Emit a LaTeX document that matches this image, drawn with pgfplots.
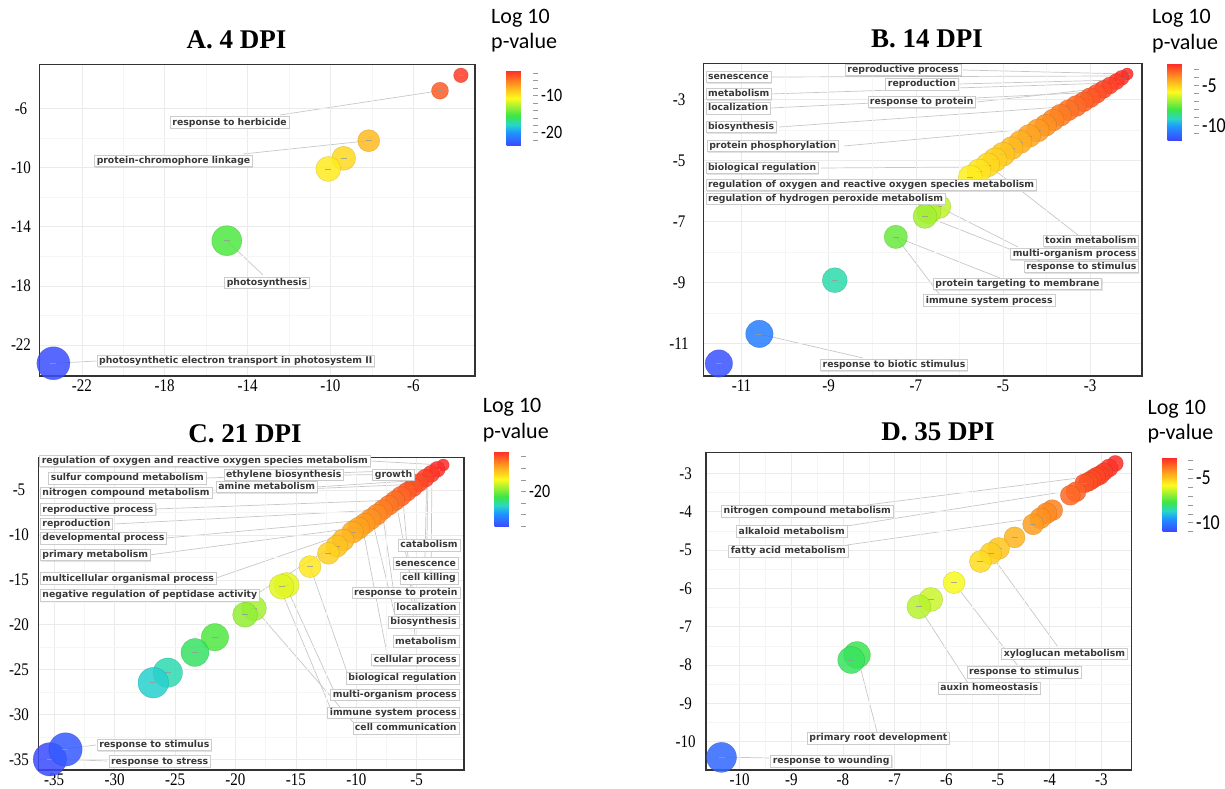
\documentclass[border=0pt]{standalone}
\usepackage{fontspec}
\setmainfont{Liberation Serif}
\newfontfamily\tickfont{Liberation Serif}
\newfontfamily\labfont{DejaVu Sans}
\newfontfamily\calfont{Carlito}
\usepackage{pgfplots}
\usepackage{pgfplotstable}
\pgfplotsset{compat=1.18}
\usetikzlibrary{shadows}

\pgfdeclareplotmark{bub}{%
  \pgfpathcircle{\pgfpointorigin}{\pgfplotmarksize}%
  \pgfusepathqfillstroke
  \pgfsetstrokecolor{black!40}%
  \pgfsetstrokeopacity{0.8}%
  \pgfsetlinewidth{0.6pt}%
  \pgfpathmoveto{\pgfpoint{-3pt}{0pt}}%
  \pgfpathlineto{\pgfpoint{3pt}{0pt}}%
  \pgfusepathqstroke
}

\pgfplotsset{
  colormap={revigo}{rgb255(0cm)=(60,70,255); rgb255(1.8cm)=(30,150,255); rgb255(2.8cm)=(40,215,200); rgb255(4cm)=(60,230,70); rgb255(6.3cm)=(255,250,30); rgb255(8cm)=(255,160,30); rgb255(10cm)=(255,40,40)},
  /pgf/number format/assume math mode=true,
  panel/.style={scale only axis, anchor=south west,
    axis line style={line width=1.2pt, black!80},
    major tick length=0pt, minor tick length=0pt,
    grid=both, major grid style={black!8, line width=0.5pt}, minor grid style={black!4, line width=0.4pt},
    minor tick num=1,
    xticklabel={\tickfont\pgfmathprintnumber{\tick}},
    yticklabel={\tickfont\pgfmathprintnumber{\tick}},
    tick label style={font=\tickfont\fontsize{15}{15}\selectfont, yscale=1.18},
    yticklabel style={anchor=center},
    clip=true, colorbar},
  cb/.style={scale only axis, at={(parent axis.north east)}, anchor=north west,
    axis line style={draw=none}, ytick pos=right, yticklabel pos=right,
    yticklabel={\calfont\pgfmathprintnumber{\tick}},
    tick align=outside, major tick length=5pt, minor tick length=5pt,
    major tick style={black!40, line width=0.6pt}, minor tick style={black!40, line width=0.6pt}},
  bubbles/.style={scatter, only marks, mark=bub, point meta=y,
    scatter/use mapped color={draw=mapped color!75!black, fill=mapped color},
    visualization depends on={\thisrow{r}\as\rr},
    scatter/@pre marker code/.append style={/tikz/mark size=\rr},
    mark options={fill opacity=0.85, draw opacity=0.45, line width=0.5pt}}
}

\pgfplotstableread{
x y r
-3.70 -3.77 7.3
-4.71 -4.81 8.5
-8.15 -8.19 11
-9.36 -9.38 12
-10.10 -10.10 12.5
-15.00 -14.95 15
-23.37 -23.24 16.5
}\tabA

\pgfplotstableread{
x y r
-2.15 -2.17 6
-2.28 -2.30 7.5
-2.40 -2.42 8
-2.55 -2.55 8.5
-2.70 -2.68 9
-2.85 -2.82 9.5
-3.00 -2.95 10
-3.15 -3.08 10
-3.32 -3.22 10.5
-3.50 -3.36 10.5
-3.68 -3.52 11
-3.85 -3.68 11
-4.02 -3.85 11
-4.20 -4.02 11.5
-4.40 -4.20 11.5
-4.60 -4.40 11.5
-4.80 -4.60 11.5
-5.00 -4.80 12
-5.18 -4.98 12
-5.35 -5.15 12
-5.55 -5.35 12
-5.75 -5.55 12
-6.47 -6.52 12
-6.70 -6.69 12
-6.79 -6.84 12
-7.46 -7.51 11.7
-8.86 -8.93 12.5
-10.59 -10.69 13.7
-11.52 -11.66 13.7
}\tabB

\pgfplotstableread{
x y r
-2.80 -2.22 6
-3.30 -2.70 8
-3.80 -3.20 8.5
-4.30 -3.70 9
-4.80 -4.20 9
-5.30 -4.70 9.5
-5.80 -5.20 9.5
-6.30 -5.70 10
-6.80 -6.20 10
-7.30 -6.70 10
-7.80 -7.20 10
-8.30 -7.75 10.5
-8.80 -8.25 10.5
-9.30 -8.75 10.5
-9.80 -9.25 11
-10.30 -9.70 11
-11.08 -10.57 11
-11.60 -11.25 11
-12.30 -12.05 11
-13.83 -13.54 11
-15.76 -15.58 12.5
-16.18 -15.77 12.5
-18.47 -18.18 12.5
-19.20 -18.90 12.5
-21.70 -21.40 13.7
-23.35 -23.10 14
-25.60 -25.35 14.7
-26.80 -26.47 15.3
-35.36 -35.00 16.7
-34.07 -33.90 16.7
}\tabC

\pgfplotstableread{
x y r
-2.73 -2.74 8
-2.85 -2.86 9
-2.95 -2.96 9
-3.03 -3.05 9.5
-3.10 -3.09 9.5
-3.18 -3.16 9.5
-3.25 -3.22 9.5
-3.33 -3.26 9.5
-3.49 -3.48 10
-3.60 -3.57 10
-3.95 -3.96 10.5
-4.06 -4.04 10.5
-4.18 -4.17 10.5
-4.32 -4.33 10.5
-4.68 -4.67 10.5
-4.99 -4.96 11
-5.14 -5.09 11
-5.34 -5.30 11
-5.85 -5.85 11
-6.30 -6.29 12
-6.53 -6.48 12
-7.73 -7.74 13.5
-7.84 -7.87 13.5
-10.35 -10.41 15
}\tabD

\begin{document}
\begin{tikzpicture}[
  lab/.style={font=\labfont\bfseries\fontsize{9.3}{11}\selectfont, text=black!78, fill=white, draw=black!20, line width=0.5pt, inner xsep=2.2pt, inner ysep=1.3pt, text height=7pt, text depth=1.9pt, drop shadow={shadow xshift=0.8pt, shadow yshift=-0.8pt, opacity=0.22}},
  ttl/.style={font=\bfseries\fontsize{27}{27}\selectfont, anchor=base, inner sep=0pt},
  lg/.style={font=\calfont\fontsize{22}{22}\selectfont, anchor=base west, inner sep=0pt}
]
\useasboundingbox (0,0) rectangle (1225pt,789pt);

% ---- leader lines (under the bubbles)
\begin{scope}[x=1pt,y=-1pt,yshift=789pt, leader/.style={draw=black!22, line width=0.7pt}]
% A
\draw[leader] (280,115) -- (440,90.7);
\draw[leader] (243,154) -- (368.7,140.7);
\draw[leader] (263,275) -- (226.7,240.7);
\draw[leader] (96.7,361) -- (53.3,363.3);
% B
\draw[leader] (963,70) -- (1127,74);
\draw[leader] (772,77) -- (1122,76);
\draw[leader] (958,84) -- (1118,80);
\draw[leader] (770,94) -- (1112,83);
\draw[leader] (977,102) -- (1105,88);
\draw[leader] (771,108) -- (1098,92);
\draw[leader] (779,127) -- (1075,106);
\draw[leader] (844,146) -- (1040,128);
\draw[leader] (821,168) -- (985,167);
\draw[leader] (1078,235) -- (988,165);
\draw[leader] (1018,247) -- (939,207);
\draw[leader] (1040,261) -- (925,216);
\draw[leader] (1000,278) -- (896,237);
\draw[leader] (940,295) -- (896,237);
\draw[leader] (863,358) -- (759,334);
% C
\draw[leader] (370,461) -- (443,465);
\draw[leader] (207,478) -- (438,469);
\draw[leader] (343,475) -- (432,474);
\draw[leader] (414,475) -- (440,467);
\draw[leader] (316,487) -- (425,480);
\draw[leader] (213,493) -- (420,484);
\draw[leader] (156,509) -- (398,500);
\draw[leader] (114,524) -- (380,510);
\draw[leader] (166,538) -- (365,520);
\draw[leader] (149,555) -- (355,528);
\draw[leader] (216,578) -- (350,532);
\draw[leader] (255,595) -- (343,540);
\draw[leader] (96,745) -- (65,749);
\draw[leader] (107,761) -- (50,759);
\draw[leader] (427,539) -- (428,475);
\draw[leader] (425,557) -- (426.7,477);
\draw[leader] (431,572) -- (432,473);
\draw[leader] (393,587) -- (383,517);
\draw[leader] (415,602) -- (397,507);
\draw[leader] (395,616) -- (373,523);
\draw[leader] (415,636) -- (403,500);
\draw[leader] (387,654) -- (363,530);
\draw[leader] (347,672) -- (310,566.7);
\draw[leader] (333,689) -- (285,584);
\draw[leader] (330,707) -- (280,588);
\draw[leader] (353,722) -- (254,608);
% D
\draw[leader] (867,505) -- (1078,478);
\draw[leader] (847,526) -- (1062,492);
\draw[leader] (847,545) -- (1022,520);
\draw[leader] (1058,647) -- (997,563);
\draw[leader] (1018,666) -- (961,592);
\draw[leader] (968,683) -- (919,607);
\draw[leader] (877,732) -- (861,670);
\draw[leader] (769,758) -- (722,757);
\end{scope}

% ---- A
\begin{axis}[panel, at={(39.3pt,413pt)}, width=435.7pt, height=311.3pt,
  xmin=-24.05, xmax=-3.02, ymin=-24.10, ymax=-3.05,
  xtick={-22,-18,-14,-10,-6}, ytick={-22,-18,-14,-10,-6},
  yticklabel style={xshift=-18.3pt},
  point meta min=-23.6, point meta max=-3.1,
  colorbar style={cb, xshift=23pt, yshift=-5.3pt, width=26pt, height=76pt,
    ytick={-10,-20}, minor ytick={-22,-18,-16,-14,-12,-8,-6,-4},
    yticklabel style={font=\calfont\fontsize{16}{16}\selectfont}}]
\addplot[bubbles] table[x=x,y=y]{\tabA};
\end{axis}

% ---- B
\begin{axis}[panel, at={(703.6pt,413pt)}, width=438.4pt, height=312.7pt,
  xmin=-11.87, xmax=-1.81, ymin=-12.07, ymax=-1.82,
  xtick={-11,-9,-7,-5,-3}, ytick={-11,-9,-7,-5,-3},
  yticklabel style={xshift=-24.6pt},
  point meta min=-11.9, point meta max=-2.18,
  colorbar style={cb, xshift=17pt, yshift=0pt, width=26pt, height=77pt,
    ytick={-5,-10}, minor ytick={-11,-9,-8,-7,-6,-4,-3},
    yticklabel style={font=\calfont\fontsize{18}{18}\selectfont}}]
\addplot[bubbles] table[x=x,y=y]{\tabB};
\end{axis}

% ---- C
\begin{axis}[panel, at={(38.3pt,19pt)}, width=425.7pt, height=312.7pt,
  xmin=-36.32, xmax=-1.08, ymin=-36.19, ymax=-1.36,
  xtick={-35,-30,-25,-20,-15,-10,-5}, ytick={-35,-30,-25,-20,-15,-10,-5},
  yticklabel style={xshift=-19.3pt},
  point meta min=-35.3, point meta max=-2.5,
  colorbar style={cb, xshift=22pt, yshift=6.3pt, width=26pt, height=76pt,
    ytick={-20}, minor ytick={-35,-30,-25,-15,-10,-5},
    yticklabel style={font=\calfont\fontsize{16}{16}\selectfont}}]
\addplot[bubbles] table[x=x,y=y]{\tabC};
\end{axis}

% ---- D
\begin{axis}[panel, at={(706pt,19pt)}, width=425.3pt, height=317.3pt,
  xmin=-10.65, xmax=-2.42, ymin=-10.74, ymax=-2.46,
  xtick={-10,-9,-8,-7,-6,-5,-4,-3}, ytick={-10,-9,-8,-7,-6,-5,-4,-3},
  yticklabel style={xshift=-20.5pt},
  point meta min=-11.0, point meta max=-2.7,
  colorbar style={cb, xshift=22.7pt, yshift=-5pt, width=25pt, height=74pt,
    ytick={-5,-10}, minor ytick={-11,-9,-8,-7,-6,-4,-3},
    yticklabel style={font=\calfont\fontsize{18}{18}\selectfont}}]
\addplot[bubbles] table[x=x,y=y]{\tabD};
\end{axis}

% ---- texts
\begin{scope}[x=1pt,y=-1pt,yshift=789pt]
\node[ttl] at (236.5,48.3) {A. 4 DPI};
\node[ttl] at (927,48) {B. 14 DPI};
\node[ttl] at (245,443) {C. 21 DPI};
\node[ttl] at (938,441) {D. 35 DPI};
\node[lg] at (491,24) {Log 10};
\node[lg] at (491,48.3) {p-value};
\node[lg] at (1152,24) {Log 10};
\node[lg] at (1152,49.3) {p-value};
\node[lg] at (482.7,412.3) {Log 10};
\node[lg] at (482.7,438.3) {p-value};
\node[lg] at (1147.3,415) {Log 10};
\node[lg] at (1147.3,439.3) {p-value};
% A labels
\node[lab, anchor=west] at (170,122.5) {response to herbicide};
\node[lab, anchor=west] at (94.3,161) {protein-chromophore linkage};
\node[lab, anchor=west] at (224.3,282.7) {photosynthesis};
\node[lab, anchor=west] at (96.7,361) {photosynthetic electron transport in photosystem II};
% B labels
\node[lab] at (903,70) {reproductive process};
\node[lab, anchor=west] at (705.6,77) {senescence};
\node[lab] at (921.9,84.3) {reproduction};
\node[lab, anchor=west] at (705.6,94) {metabolism};
\node[lab] at (921.7,102) {response to protein};
\node[lab, anchor=west] at (705.6,108.3) {localization};
\node[lab, anchor=west] at (705.6,127) {biosynthesis};
\node[lab, anchor=west] at (706.8,146) {protein phosphorylation};
\node[lab, anchor=west] at (705.6,168) {biological regulation};
\node[lab, anchor=west] at (705.6,185) {regulation of oxygen and reactive oxygen species metabolism};
\node[lab, anchor=west] at (705.6,198.7) {regulation of hydrogen peroxide metabolism};
\node[lab, anchor=east] at (1138.9,241) {toxin metabolism};
\node[lab, anchor=east] at (1138.9,254) {multi-organism process};
\node[lab, anchor=east] at (1138.9,267) {response to stimulus};
\node[lab] at (1017.5,284) {protein targeting to membrane};
\node[lab] at (989.2,300.5) {immune system process};
\node[lab] at (894,365) {response to biotic stimulus};
% C labels
\node[lab, anchor=west] at (39.3,461) {regulation of oxygen and reactive oxygen species metabolism};
\node[lab, anchor=west] at (48.3,478.3) {sulfur compound metabolism};
\node[lab] at (283.7,474.7) {ethylene biosynthesis};
\node[lab] at (393.5,474.7) {growth};
\node[lab] at (266.7,487) {amine metabolism};
\node[lab, anchor=west] at (40,492.8) {nitrogen compound metabolism};
\node[lab, anchor=west] at (40,509.5) {reproductive process};
\node[lab, anchor=west] at (40,523.8) {reproduction};
\node[lab, anchor=west] at (40,538.3) {developmental process};
\node[lab, anchor=west] at (40,555) {primary metabolism};
\node[lab, anchor=west] at (40,578.5) {multicellular organismal process};
\node[lab, anchor=west] at (40,595.3) {negative regulation of peptidase activity};
\node[lab] at (154.3,745) {response to stimulus};
\node[lab] at (159.7,761.5) {response to stress};
\node[lab, anchor=east] at (460,545.2) {catabolism};
\node[lab, anchor=east] at (458.3,563.5) {senescence};
\node[lab, anchor=east] at (458.3,578.2) {cell killing};
\node[lab, anchor=east] at (460,592.8) {response to protein};
\node[lab, anchor=east] at (459,608.2) {localization};
\node[lab, anchor=east] at (459,622.2) {biosynthesis};
\node[lab, anchor=east] at (459,641.5) {metabolism};
\node[lab, anchor=east] at (459,660) {cellular process};
\node[lab, anchor=east] at (459,678.2) {biological regulation};
\node[lab, anchor=east] at (459,694.8) {multi-organism process};
\node[lab, anchor=east] at (459,712.8) {immune system process};
\node[lab, anchor=east] at (459,728.2) {cell communication};
% D labels
\node[lab] at (807.3,511.2) {nitrogen compound metabolism};
\node[lab] at (791.7,531.5) {alkaloid metabolism};
\node[lab] at (788.3,551.2) {fatty acid metabolism};
\node[lab] at (1064.4,653.7) {xyloglucan metabolism};
\node[lab] at (1024.1,672.2) {response to stimulus};
\node[lab] at (989.2,688.2) {auxin homeostasis};
\node[lab] at (878.4,738.3) {primary root development};
\node[lab] at (831.2,761.2) {response to wounding};
\end{scope}
\end{tikzpicture}
\end{document}
